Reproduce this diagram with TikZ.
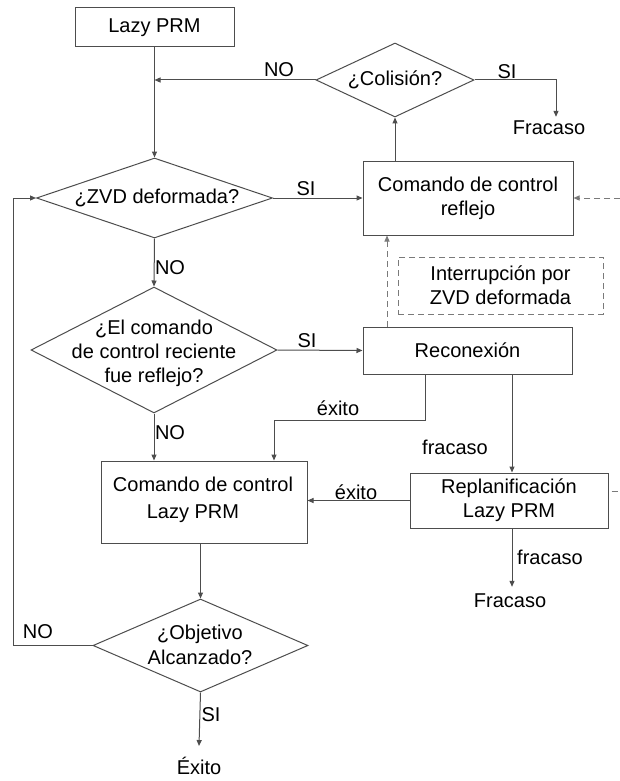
\documentclass[tikz,border=0pt]{standalone}
\usepackage{fontspec}
\setmainfont{Liberation Sans}
\usetikzlibrary{shapes.geometric,arrows.meta}
\definecolor{ln}{HTML}{4D4D4D}
\definecolor{dl}{HTML}{7A7A7A}
\begin{document}
\begin{tikzpicture}[x=1pt,y=-1pt,
  every node/.style={font=\fontsize{20}{24}\selectfont, text=black},
  box/.style={draw=ln, line width=1pt, rectangle, inner sep=0pt, align=center},
  dia/.style={draw=ln, line width=1pt, diamond, inner sep=0pt},
  lbl/.style={inner sep=1pt, align=center},
  conn/.style={draw=ln, line width=1pt, -{Triangle[length=6pt,width=5pt]}},
  dconn/.style={draw=dl, line width=1pt, dash pattern=on 6pt off 4pt, -{Triangle[length=6pt,width=5pt]}},
  dline/.style={draw=dl, line width=1pt, dash pattern=on 6pt off 4pt},
]
\useasboundingbox (0,0) rectangle (620,781);
\fill[white] (0,0) rectangle (620,781);

% nodes
\node[box, minimum width=159pt, minimum height=39pt] (lazy) at (154.5,27.5) {Lazy PRM};
\node[dia, minimum width=158pt, minimum height=74pt] (col) at (395,80) {};
\node[lbl] (colt) at (395,80) {¿Colisión?};
\node[lbl] (fr1) at (549,128) {Fracaso};
\node[dia, minimum width=236pt, minimum height=80pt] (zvd) at (154.5,198) {};
\node[lbl] (zvdt) at (157,198) {¿ZVD deformada?};
\node[box, minimum width=210pt, minimum height=74pt] (refl) at (468,198) {Comando de control\\reflejo};
\node[dia, minimum width=246pt, minimum height=126pt] (q2) at (154,350) {};
\node[lbl] (q2t) at (154,353) {¿El comando\\de control reciente\\fue reflejo?};
\node[box, minimum width=209pt, minimum height=47pt] (recon) at (467.5,350.5) {Reconexión};
\node[box, draw=dl, dash pattern=on 6pt off 4pt, minimum width=205pt, minimum height=57pt] (intr) at (500.5,285.5) {Interrupción por\\ZVD deformada};
\node[box, minimum width=206pt, minimum height=82pt] (cmd) at (204,502) {};
\node[lbl] (cmdt) at (203,500) {Comando de control\\[3pt]\hspace*{-20pt}Lazy PRM};
\node[box, minimum width=198pt, minimum height=55pt] (repl) at (509,500.5) {Replanificación\\Lazy PRM};
\node[lbl] (fr2) at (510,601) {Fracaso};
\node[dia, minimum width=215pt, minimum height=93pt] (obj) at (200.5,645.5) {};
\node[lbl] (objt) at (200,645) {¿Objetivo\\[1pt]Alcanzado?};
\node[lbl] (exi) at (199,766) {Éxito};

% labels
\node[lbl] (l1) at (279,70) {NO};
\node[lbl] (l2) at (507,72) {SI};
\node[lbl] (l3) at (306,189) {SI};
\node[lbl] (l4) at (170,268) {NO};
\node[lbl] (l5) at (307,341) {SI};
\node[lbl] (l6) at (338,408) {éxito};
\node[lbl] (l7) at (170,433) {NO};
\node[lbl] (l8) at (455,447) {fracaso};
\node[lbl] (l9) at (356,492) {éxito};
\node[lbl] (l10) at (550,557) {fracaso};
\node[lbl] (l11) at (38,632) {NO};
\node[lbl] (l12) at (211,715) {SI};

% helper coordinates
\coordinate (dx) at (387,0);
\coordinate (e1) at (425,420);
\coordinate (e2) at (274,420);
\coordinate (f1) at (512,0);
\coordinate (lp) at (13,0);
\coordinate (dr1) at (620,198);
\coordinate (dr2) at (620,491);

% connectors
\draw[conn] (lazy.south) -- (zvd.north);
\draw[conn] (col.west) -- (col.west -| lazy.south);
\draw[conn] (col.east) -| ([xshift=7pt,yshift=3pt]fr1.north);
\draw[conn] (refl.north -| col.south) -- (col.south);
\draw[conn] (zvd.east) -- (refl.west);
\draw[dconn] (dr1) -- (refl.east);
\draw[conn] (zvd.south) -- (q2.north);
\draw[conn] (q2.east) -- (recon.west);
\draw[dconn] (recon.north -| dx) -- (refl.south -| dx);
\draw[conn] (recon.south -| e1) -- (e1) -- (e2) -- (cmd.north -| e2);
\draw[conn] (recon.south -| f1) -- (repl.north -| f1);
\draw[conn] (repl.west) -- (cmd.east |- repl.west);
\draw[dline] ([xshift=3pt,yshift=9.5pt]repl.east) -- (dr2);
\draw[conn] (q2.south) -- (cmd.north -| q2.south);
\draw[conn] (cmd.south -| obj.north) -- (obj.north);
\draw[conn] (repl.south -| f1) -- ([yshift=6pt]fr2.north -| f1);
\draw[conn] (obj.west) -| (lp |- zvd.west) -- (zvd.west);
\draw[conn] (obj.south) -- ([yshift=10pt]exi.north);
\end{tikzpicture}
\end{document}
